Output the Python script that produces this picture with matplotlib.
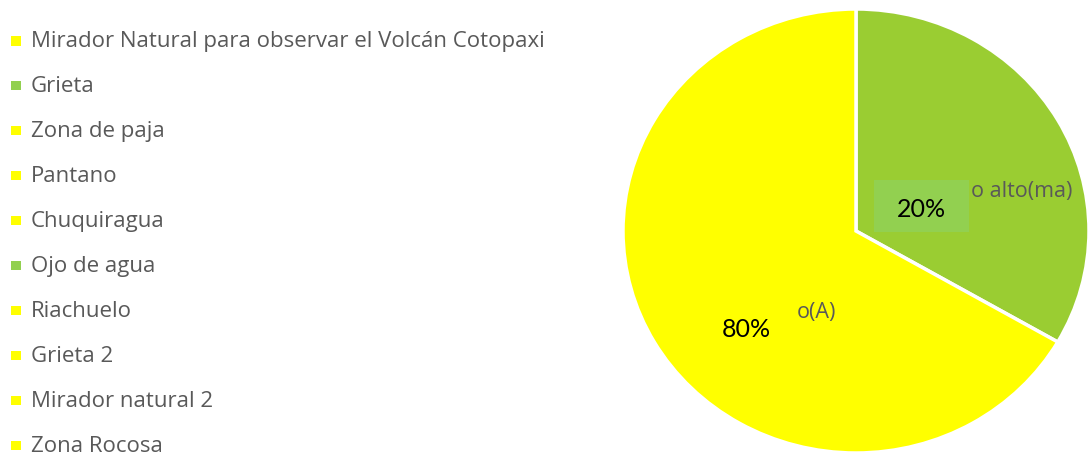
import matplotlib.pyplot as plt
from matplotlib.patches import Rectangle

# Legend entries (points of interest) and their marker colours
categories = ["Mirador Natural para observar el Volcán Cotopaxi", "Grieta",
              "Zona de paja", "Pantano", "Chuquiragua", "Ojo de agua",
              "Riachuelo", "Grieta 2", "Mirador natural 2", "Zona Rocosa"]
cat_colors = ["#FFFF00", "#92D050", "#FFFF00", "#FFFF00", "#FFFF00",
              "#92D050", "#FFFF00", "#FFFF00", "#FFFF00", "#FFFF00"]

# Pie slices (clockwise from the top); only the tail of each category
# name is visible in the original, the rest sits under the % labels
slice_names = ["o alto(ma)", "o(A)"]
slice_values = [1, 2]
slice_labels = ["20%", "80%"]
slice_colors = ["#9ACD32", "#FFFF00"]

W, H = 1088, 456
fig = plt.figure(figsize=(W / 100, H / 100), dpi=100)
plt.rcParams["font.family"] = ["Open Sans", "DejaVu Sans"]
gray = "#595959"

###############################################################################
# Legend on the left (clipped on the right like the original)
lax = fig.add_axes([0, 0, 590 / W, 1])
lax.set_xlim(0, 590)
lax.set_ylim((H - 42) / 44.9, -42 / 44.9)
lax.axis("off")
rows = list(range(len(categories)))
lax.scatter([16] * len(rows), rows, marker="s", s=42, c=cat_colors,
            linewidths=0)
for i, name in zip(rows, categories):
    lax.text(31, i, name, fontsize=16, color=gray, va="center",
             ha="left", clip_on=True)

###############################################################################
# Pie (slightly stretched horizontally, cut at the figure edges)
cx, cy, rx, ry = 856, 232, 233, 222
pax = fig.add_axes([(cx - rx) / W, (H - cy - ry) / H, 2 * rx / W, 2 * ry / H])
pax.pie(slice_values, colors=slice_colors, startangle=90, counterclock=False,
        wedgeprops=dict(edgecolor="white", linewidth=2.5))
pax.set_aspect("auto")
pax.set_xlim(-1, 1)
pax.set_ylim(-1, 1)
pax.axis("off")


def px(x, y):
    return (x - cx) / rx, (cy - y) / ry


# visible part of the category names
pax.text(*px(971, 192), slice_names[0], color=gray, fontsize=15.5,
         ha="left", va="center", zorder=2)
pax.text(*px(797, 313), slice_names[1], color=gray, fontsize=15.5,
         ha="left", va="center", zorder=2)

# data label box + labels
x0, y0 = px(874, 233)
x1, y1 = px(969, 181)
pax.add_patch(Rectangle((x0, y0), x1 - x0, y1 - y0, facecolor="#92D050",
                        edgecolor="none", zorder=3))
pax.text(*px(921, 210), slice_labels[0], fontsize=18, color="black",
         family=["Lato", "DejaVu Sans"], ha="center", va="center", zorder=4)
pax.text(*px(746, 330), slice_labels[1], fontsize=18, color="black",
         family=["Lato", "DejaVu Sans"], ha="center", va="center", zorder=4)

fig.savefig("out.png", dpi=100)
